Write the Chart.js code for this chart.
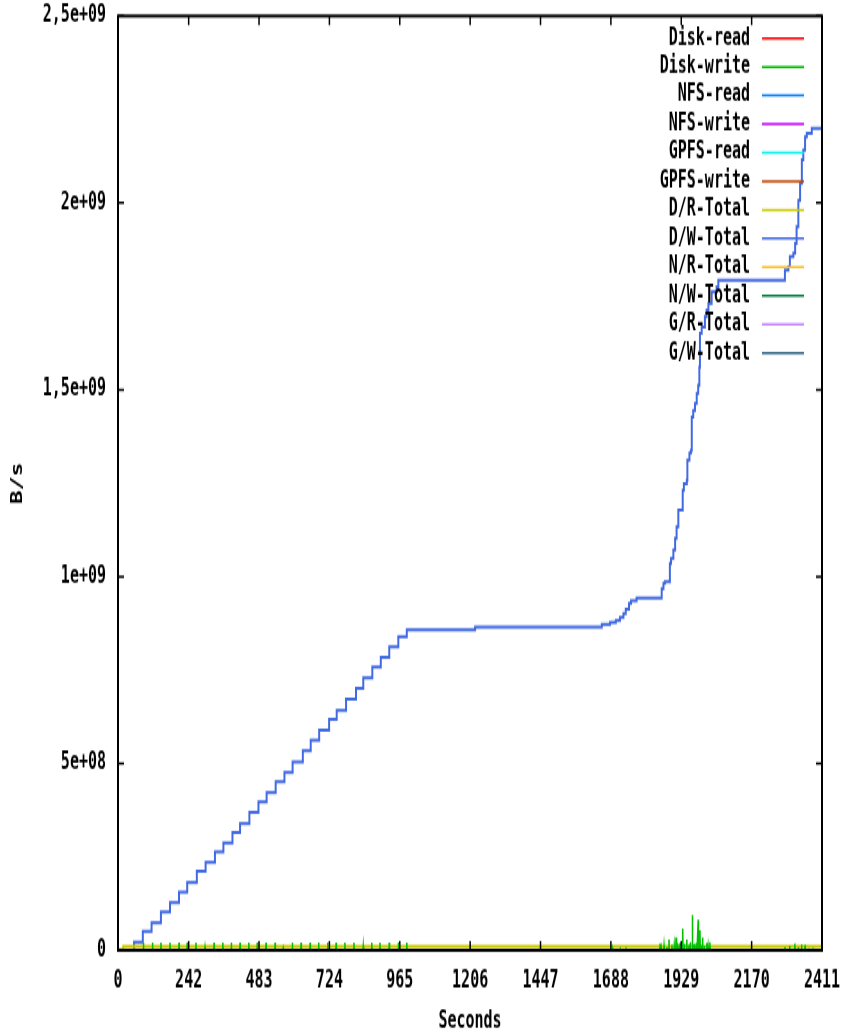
<!DOCTYPE html>
<html>
<head>
<meta charset="utf-8">
<script src="https://cdn.jsdelivr.net/npm/chart.js@4.4.1/dist/chart.umd.min.js"></script>
<style>
  html, body { margin: 0; padding: 0; background: #fff; }
  #page { width: 844px; height: 1034px; }
  /* the plot is drawn short and stretched, like the tall gnuplot png it copies */
  #wrap { width: 844px; height: 667px; transform: scaleY(1.5502); transform-origin: 0 0; }
  #graph { display: block; }
</style>
</head>
<body>
<div id="page"><div id="wrap"><canvas id="graph" width="844" height="667"></canvas></div></div>
<script>
const seriesLabels = ['Disk-read', 'Disk-write', 'NFS-read', 'NFS-write', 'GPFS-read', 'GPFS-write',
                      'D/R-Total', 'D/W-Total', 'N/R-Total', 'N/W-Total', 'G/R-Total', 'G/W-Total'];
const seriesColors = ['#ff0000', '#00c000', '#0080ff', '#c000ff', '#00eeee', '#c04000',
                      '#c8c800', '#4169e1', '#ffc020', '#008040', '#c080ff', '#306080'];

const xTickValues = [0, 242, 483, 724, 965, 1206, 1447, 1688, 1929, 2170, 2411];
const yTickLabels = ['0', '5e+08', '1e+09', '1,5e+09', '2e+09', '2,5e+09'];

// D/W-Total, cumulative, in 1e9 B/s (value holds from each time on)
const dwTotalTimes = [0, 55, 85, 115, 147, 178, 209, 237, 270, 300,
                      332, 361, 392, 418, 450, 481, 509, 540, 570, 598,
                      633, 660, 689, 723, 749, 781, 815, 840, 871, 900,
                      929, 960, 989, 1223, 1657, 1685, 1705, 1719, 1731, 1739,
                      1750, 1757, 1776, 1862, 1868, 1873, 1890, 1894, 1902, 1908,
                      1913, 1919, 1934, 1938, 1948, 1950, 1957, 1962, 1965, 1970,
                      1976, 1982, 1987, 1991, 1993, 1999, 2010, 2016, 2022, 2033,
                      2050, 2056, 2284, 2296, 2301, 2313, 2319, 2324, 2330, 2336,
                      2342, 2347, 2353, 2359, 2376, 2411];
const dwTotalValues = [0, 0.022, 0.051, 0.074, 0.103, 0.128, 0.156, 0.181, 0.212, 0.235,
                       0.263, 0.287, 0.315, 0.339, 0.369, 0.397, 0.422, 0.451, 0.476, 0.504,
                       0.534, 0.562, 0.589, 0.618, 0.642, 0.672, 0.701, 0.729, 0.758, 0.784,
                       0.812, 0.839, 0.858, 0.865, 0.872, 0.877, 0.883, 0.891, 0.901, 0.913,
                       0.928, 0.935, 0.943, 0.968, 0.982, 0.986, 1.035, 1.048, 1.071, 1.102,
                       1.133, 1.178, 1.231, 1.249, 1.258, 1.312, 1.330, 1.338, 1.427, 1.445,
                       1.463, 1.490, 1.512, 1.561, 1.651, 1.668, 1.695, 1.713, 1.731, 1.762,
                       1.775, 1.793, 1.820, 1.829, 1.856, 1.866, 1.892, 1.936, 2.007, 2.052,
                       2.115, 2.141, 2.177, 2.186, 2.199, 2.199];

// D/R-Total, flat, B/s
const drTotalTimes = [0, 18, 2411];
const drTotalValues = [2.5e6, 10.7e6, 10.7e6];

// Disk-write spikes, in 1e6 B/s
const diskWriteTimes = [87, 118, 147, 178, 209, 237, 267, 298, 329, 359,
                        388, 418, 448, 477, 507, 538, 566, 597, 627, 658,
                        687, 718, 747, 777, 808, 840, 869, 897, 929, 960, 989,
                        1695, 1720, 1740, 1755, 1856, 1860, 1870, 1880, 1887, 1897,
                        1905, 1911, 1915, 1920, 1925, 1934, 1940, 1948, 1955, 1960,
                        1967, 1972, 1976, 1982, 1987, 1993, 1998, 2002, 2008, 2016,
                        2021, 2027, 2040, 2050, 2284, 2300, 2318, 2330, 2341, 2353,
                        2365, 2380];
const diskWriteValues = [21, 21, 21, 21, 21, 21, 21, 8, 21, 21,
                         21, 21, 21, 21, 21, 21, 5, 21, 21, 21,
                         21, 21, 21, 21, 21, 12, 21, 21, 21, 21, 21,
                         3, 3, 3, 3, 18, 10, 12, 8, 29, 15,
                         12, 34, 20, 15, 20, 58, 18, 29, 15, 22,
                         94, 16, 18, 20, 82, 54, 14, 34, 12, 20,
                         10, 22, 4, 3, 8, 12, 18, 8, 16, 14,
                         5, 6];

// series that stay at zero
const zeroTimes = [0, 2411];
const zeroValues = [0, 0];

function toPoints(times, values, scale) {
    return times.map((t, i) => ({ x: t, y: values[i] * scale }));
}

function spikePoints(times, values, scale) {
    var pts = [{ x: 0, y: 0 }];
    times.forEach((t, i) => {
        pts.push({ x: t - 1, y: 0 }, { x: t, y: values[i] * scale }, { x: t + 1, y: 0 });
    });
    pts.push({ x: 2411, y: 0 });
    return pts;
}

const datasets = seriesLabels.map((label, i) => {
    var data = toPoints(zeroTimes, zeroValues, 1);
    var stepped = false;
    if (label === 'Disk-write') data = spikePoints(diskWriteTimes, diskWriteValues, 1e6);
    if (label === 'D/R-Total') { data = toPoints(drTotalTimes, drTotalValues, 1); stepped = 'before'; }
    if (label === 'D/W-Total') { data = toPoints(dwTotalTimes, dwTotalValues, 1e9); stepped = 'before'; }
    return {
        label: label,
        data: data,
        borderColor: seriesColors[i],
        backgroundColor: seriesColors[i],
        borderWidth: label === 'Disk-write' ? 1.5 : 2,
        pointRadius: 0,
        stepped: stepped,
        fill: false
    };
});

const font = { family: '"DejaVu Sans Mono", monospace', size: 15, weight: 'bold' };

// border with inward ticks on all four sides, plus the key drawn like gnuplot's
const gnuplotFrame = {
    id: 'gnuplotFrame',
    afterDatasetsDraw(chart) {
        const ctx = chart.ctx, a = chart.chartArea;
        const xs = chart.scales.x, ys = chart.scales.y;
        ctx.save();
        ctx.strokeStyle = '#000';
        ctx.lineWidth = 1.5;
        ctx.beginPath();
        xs.ticks.forEach(t => {
            const px = xs.getPixelForValue(t.value);
            ctx.moveTo(px, a.bottom); ctx.lineTo(px, a.bottom - 6);
            ctx.moveTo(px, a.top); ctx.lineTo(px, a.top + 6);
        });
        ys.ticks.forEach(t => {
            const py = ys.getPixelForValue(t.value);
            ctx.moveTo(a.left, py); ctx.lineTo(a.left + 6, py);
            ctx.moveTo(a.right, py); ctx.lineTo(a.right - 6, py);
        });
        ctx.stroke();
        ctx.lineWidth = 2;
        ctx.strokeRect(a.left, a.top, a.right - a.left, a.bottom - a.top);

        ctx.font = 'bold 15px "DejaVu Sans Mono", monospace';
        ctx.textAlign = 'right';
        ctx.textBaseline = 'middle';
        chart.data.datasets.forEach((ds, i) => {
            const ly = 24.7 + i * 18.45;
            ctx.fillStyle = '#000';
            ctx.fillText(ds.label, 750, ly);
            ctx.strokeStyle = ds.borderColor;
            ctx.lineWidth = 1.5;
            ctx.beginPath();
            ctx.moveTo(762, ly);
            ctx.lineTo(804, ly);
            ctx.stroke();
        });
        ctx.restore();
    }
};

new Chart(document.getElementById('graph'), {
    type: 'line',
    data: { datasets: datasets },
    plugins: [gnuplotFrame],
    options: {
        responsive: false,
        animation: false,
        events: [],
        layout: { padding: { top: 10.3, right: 22, left: 0, bottom: 0 } },
        plugins: { legend: { display: false }, tooltip: { enabled: false } },
        scales: {
            x: {
                type: 'linear',
                min: 0,
                max: 2411,
                grid: { display: false, drawTicks: false },
                border: { display: false },
                afterBuildTicks: scale => { scale.ticks = xTickValues.map(v => ({ value: v })); },
                afterFit: scale => { scale.height = 54; scale.paddingLeft = 0; scale.paddingRight = 0; },
                ticks: {
                    autoSkip: false,
                    maxRotation: 0,
                    padding: 11,
                    color: '#000',
                    font: font,
                    callback: value => String(value)
                },
                title: { display: true, text: 'Seconds', color: '#000', font: font, padding: { top: 0, bottom: -1.5 } }
            },
            y: {
                min: 0,
                max: 2.5e9,
                grid: { display: false, drawTicks: false },
                border: { display: false },
                afterFit: scale => { scale.width = 118; scale.paddingTop = 0; scale.paddingBottom = 0; },
                ticks: {
                    stepSize: 5e8,
                    padding: 12,
                    color: '#000',
                    font: font,
                    callback: (value, i) => yTickLabels[i]
                },
                title: { display: true, text: 'B/s', color: '#000', font: font, padding: { top: 9, bottom: 0 } }
            }
        }
    }
});
</script>
</body>
</html>
